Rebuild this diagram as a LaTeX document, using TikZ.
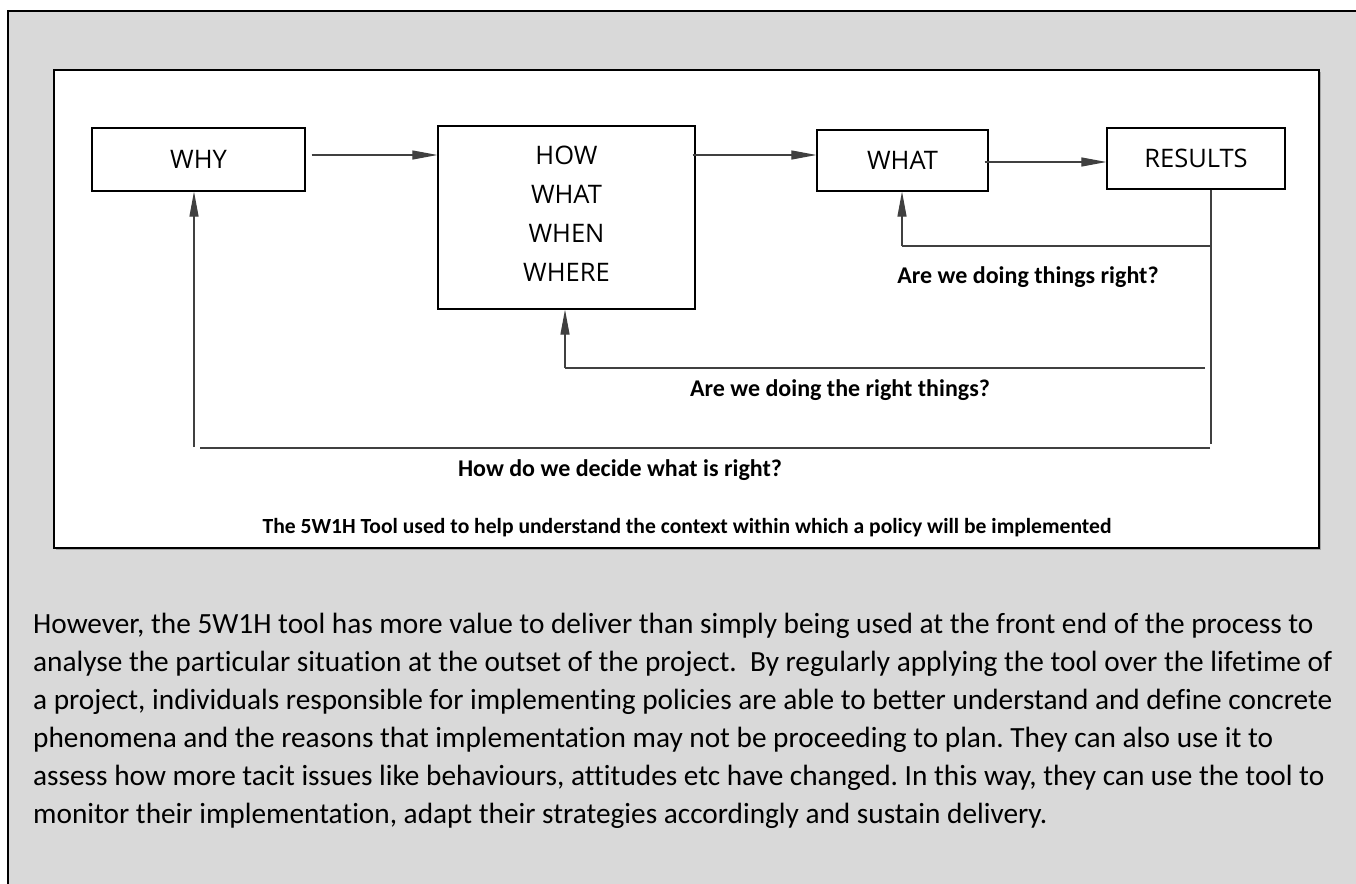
\documentclass[tikz,border=0pt]{standalone}
\usepackage{fontspec}
\setmainfont[Ligatures={NoCommon}]{Carlito}
\newfontfamily\boxfont{Open Sans}
\usetikzlibrary{arrows.meta}
\definecolor{pagegray}{HTML}{D9D9D9}
\definecolor{linegray}{HTML}{404040}
\tikzset{
  stepbox/.style={draw=black, line width=1.2pt, fill=white, inner sep=0pt, font=\boxfont\fontsize{25.5}{39}\selectfont, align=center},
  conn/.style={draw=linegray, line width=1.1pt},
  arr/.style={conn, -{Triangle[length=25pt,width=9pt]}},
  qlabel/.style={font=\bfseries\fontsize{24}{28}\selectfont, inner sep=0pt},
  captionlbl/.style={font=\bfseries\fontsize{21.6}{26}\selectfont, inner sep=0pt},
  para/.style={font=\fontsize{29.3}{38}\selectfont, inner sep=0pt, anchor=base west}
}
\frenchspacing
\begin{document}
\begin{tikzpicture}[x=1pt,y=-1pt]
\useasboundingbox (0,0) rectangle (1356,883);
% outer gray panel
\fill[pagegray] (8,11) rectangle (1370,900);
\draw[black, line width=1.4pt] (8,900) -- (8,11) -- (1370,11);
% inner white frame with slight shadow
\fill[gray!70] (56,72) rectangle (1321,550);
\draw[black, line width=1.4pt, fill=white] (54,70) rectangle (1319,548);

% boxes
\node[stepbox, minimum width=213pt, minimum height=63pt] (why) at (198.5,159.5) {WHY};
\node[stepbox, minimum width=257pt, minimum height=183pt] (how) at (566.5,217.5) {HOW\\WHAT\\WHEN\\WHERE\rule[-8pt]{0pt}{8pt}};
\node[stepbox, minimum width=171pt, minimum height=61pt] (what) at (902.5,160.5) {WHAT};
\node[stepbox, minimum width=178pt, minimum height=61pt] (res) at (1196,158.5) {RESULTS};

% forward arrows
\draw[arr] ([xshift=6pt]why.east |- 0,155) -- (how.west |- 0,155);
\draw[arr] ([xshift=-3pt]how.east |- 0,155) -- (what.west |- 0,155);
\draw[arr] ([xshift=-4pt]what.east |- 0,162) -- (res.west |- 0,162);

% feedback coordinates
\coordinate (rdown) at (1211,444);
\coordinate (f1r) at (1211,246);
\coordinate (f1l) at (902,246);
\coordinate (f2r) at (1205,368);
\coordinate (f2l) at (565,368);
\coordinate (f3r) at (1210,448);
\coordinate (f3l) at (200,448);
\coordinate (f3v) at (194,447);

\draw[conn] (res.south -| rdown) -- (rdown);
\draw[conn] (f1r) -- (f1l);
\draw[arr] (f1l) -- (f1l |- what.south);
\draw[conn] (f2r) -- (f2l);
\draw[arr] (f2l) -- (f2l |- how.south);
\draw[conn] (f3r) -- (f3l);
\draw[arr] (f3v) -- (f3v |- why.south);

% labels
\node[qlabel] (q1) at (1028,277) {Are we doing things right?};
\node[qlabel] (q2) at (840,390) {Are we doing the right things?};
\node[qlabel] (q3) at (620,470) {How do we decide what is right?};
\node[captionlbl] (cap) at (687,528) {The 5W1H Tool used to help understand the context within which a policy will be implemented};

% paragraph
\node[para] (p1) at (33,633) {However, the 5W1H tool has more value to deliver than simply being used at the front end of the process to};
\node[para] (p2) at (33,671) {analyse the particular situation at the outset of the project.\ \ By regularly applying the tool over the lifetime of};
\node[para] (p3) at (33,709) {a project, individuals responsible for implementing policies are able to better understand and define concrete};
\node[para] (p4) at (33,747) {phenomena and the reasons that implementation may not be proceeding to plan. They can also use it to};
\node[para] (p5) at (33,785) {assess how more tacit issues like behaviours, attitudes etc have changed. In this way, they can use the tool to};
\node[para] (p6) at (33,823) {monitor their implementation, adapt their strategies accordingly and sustain delivery.};
\end{tikzpicture}
\end{document}
